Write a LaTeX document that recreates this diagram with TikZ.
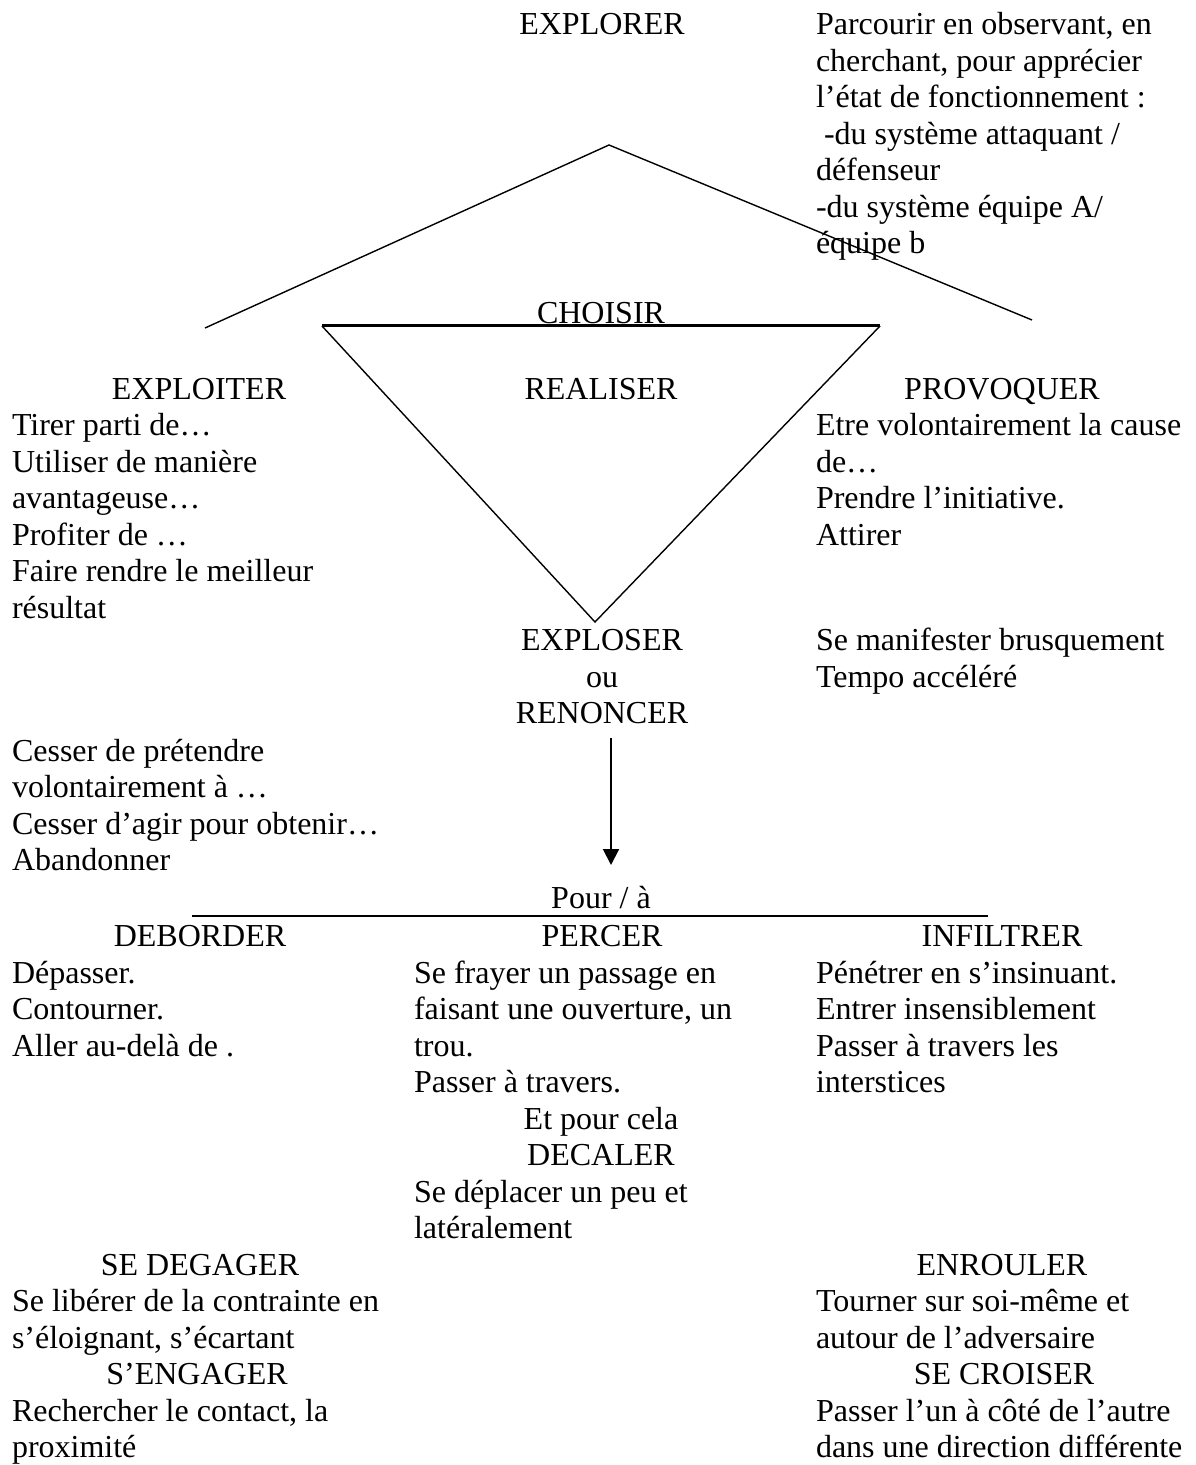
\documentclass[tikz,border=0pt]{standalone}
\usepackage{fontspec}
\setmainfont{Liberation Serif}
\usetikzlibrary{arrows.meta}
\newcommand\txtfont{\fontsize{16}{18.25}\selectfont}
\begin{document}
\begin{tikzpicture}[x=0.5pt,y=-0.5pt,
  every node/.style={inner sep=0pt, outer sep=0pt, font=\txtfont},
  lt/.style={anchor=base west},
  ct/.style={anchor=base},
  thinline/.style={line width=0.7pt, black},
  thickline/.style={line width=1.5pt, black},
  midline/.style={line width=1pt, black},
  arr/.style={line width=1pt, -{Triangle[length=8pt,width=8pt]}}]
\fill[white] (0,0) rectangle (1195,1465);
\useasboundingbox (0,0) rectangle (1195,1465);

% ---------- top ----------
\node[ct] (explorer) at (602,35) {EXPLORER};
\node[lt] (p0) at (816,35) {Parcourir en observant, en};
\node[lt] (p1) at (816,71.5) {cherchant, pour apprécier};
\node[lt] (p2) at (816,108) {l’état de fonctionnement :};
\node[lt] (p3) at (816,144.5) {\kern4pt-du système attaquant /};
\node[lt] (p4) at (816,181) {défenseur};
\node[lt] (p5) at (816,217.5) {-du système équipe A/};
\node[lt] (p6) at (816,254) {équipe b};

% roof and triangle
\draw[thinline] (205,328) -- (609,145) -- (1032,320);
\draw[thinline] (322,326) -- (595,622) -- (880,326);
\draw[thickline] (322,326) -- (880,326);

\node[ct] (choisir) at (601,323) {CHOISIR};

\node[ct] (exploiter) at (199,399) {EXPLOITER};
\node[ct] (realiser) at (601,399) {REALISER};
\node[ct] (provoquer) at (1002,399) {PROVOQUER};

\node[lt] (e0) at (12,435.5) {Tirer parti de…};
\node[lt] (e1) at (12,472) {Utiliser de manière};
\node[lt] (e2) at (12,508.5) {avantageuse…};
\node[lt] (e3) at (12,545) {Profiter de …};
\node[lt] (e4) at (12,581.5) {Faire rendre le meilleur};
\node[lt] (e5) at (12,618) {résultat};

\node[lt] (v0) at (816,435.5) {Etre volontairement la cause};
\node[lt] (v1) at (816,472) {de…};
\node[lt] (v2) at (816,508.5) {Prendre l’initiative.};
\node[lt] (v3) at (816,545) {Attirer};

\node[ct] (exploser) at (602,650) {EXPLOSER};
\node[ct] (ou) at (602,687) {ou};
\node[ct] (renoncer) at (602,723.5) {RENONCER};

\node[lt] (m0) at (816,650) {Se manifester brusquement};
\node[lt] (m1) at (816,687) {Tempo accéléré};

\node[lt] (r0) at (12,761) {Cesser de prétendre};
\node[lt] (r1) at (12,797.5) {volontairement à …};
\node[lt] (r2) at (12,834) {Cesser d’agir pour obtenir…};
\node[lt] (r3) at (12,870.5) {Abandonner};

\coordinate (arrA) at (611,738);
\coordinate (arrB) at (611,865);
\draw[arr] (arrA) -- (arrB);

\node[ct] (pour) at (601,908.5) {Pour / à};
\coordinate (hl) at (192,916);
\coordinate (hr) at (988,916);
\draw[midline] (hl) -- (hr);

% ---------- bottom ----------
\node[ct] (deborder) at (200,946.5) {DEBORDER};
\node[ct] (percer) at (602,946.5) {PERCER};
\node[ct] (infiltrer) at (1002,946.5) {INFILTRER};

\node[lt] (d0) at (12,983) {Dépasser.};
\node[lt] (d1) at (12,1019.5) {Contourner.};
\node[lt] (d2) at (12,1056) {Aller au-delà de .};

\node[lt] (c0) at (414,983) {Se frayer un passage en};
\node[lt] (c1) at (414,1019.5) {faisant une ouverture, un};
\node[lt] (c2) at (414,1056) {trou.};
\node[lt] (c3) at (414,1092.5) {Passer à travers.};
\node[ct] (etpour) at (601,1129) {Et pour cela};
\node[ct] (decaler) at (601,1165.5) {DECALER};
\node[lt] (c4) at (414,1202) {Se déplacer un peu et};
\node[lt] (c5) at (414,1238.5) {latéralement};

\node[lt] (i0) at (816,983) {Pénétrer en s’insinuant.};
\node[lt] (i1) at (816,1019.5) {Entrer insensiblement};
\node[lt] (i2) at (816,1056) {Passer à travers les};
\node[lt] (i3) at (816,1092.5) {interstices};

\node[ct] (degager) at (200,1275) {SE DEGAGER};
\node[lt] (g0) at (12,1311.5) {Se libérer de la contrainte en};
\node[lt] (g1) at (12,1348) {s’éloignant, s’écartant};
\node[ct] (engager) at (197,1384.5) {S’ENGAGER};
\node[lt] (g2) at (12,1421) {Rechercher le contact, la};
\node[lt] (g3) at (12,1457.5) {proximité};

\node[ct] (enrouler) at (1002,1275) {ENROULER};
\node[lt] (n0) at (816,1311.5) {Tourner sur soi-même et};
\node[lt] (n1) at (816,1348) {autour de l’adversaire};
\node[ct] (croiser) at (1004,1384.5) {SE CROISER};
\node[lt] (n2) at (816,1421) {Passer l’un à côté de l’autre};
\node[lt] (n3) at (816,1457.5) {dans une direction différente};
\end{tikzpicture}
\end{document}
